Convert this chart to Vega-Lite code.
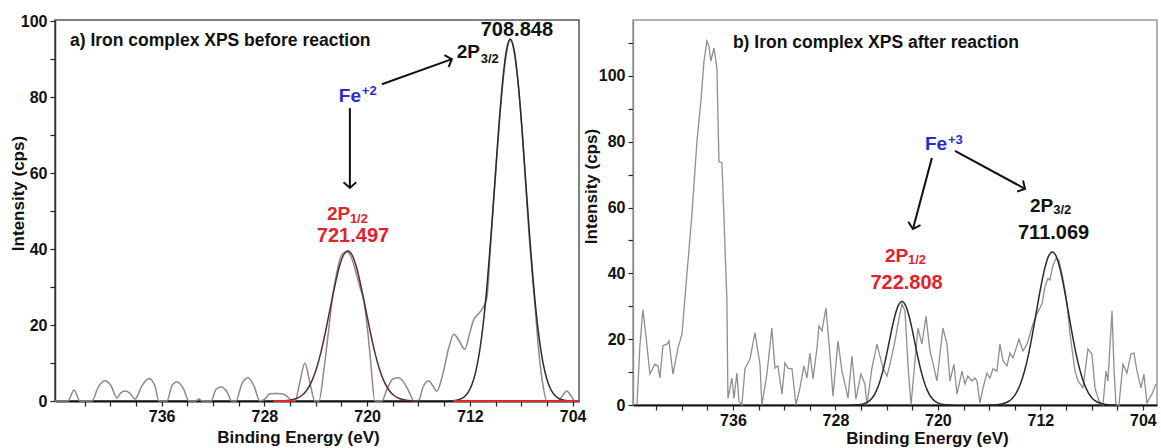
{
  "$schema": "https://vega.github.io/schema/vega-lite/v6.json",
  "background": "white",
  "padding": {"left": 8, "top": 12, "right": 0, "bottom": 0},
  "spacing": -6,
  "config": {
    "font": "Liberation Sans",
    "axis": {
      "labelFont": "Liberation Sans",
      "titleFont": "Liberation Sans",
      "labelFontWeight": "bold",
      "titleFontWeight": "bold",
      "labelColor": "#111111",
      "titleColor": "#111111",
      "labelFontSize": 16,
      "titleFontSize": 17,
      "grid": false,
      "tickSize": 5,
      "tickColor": "#222222",
      "tickWidth": 1.2,
      "labelOverlap": false,
      "labelFlush": false
    }
  },
  "datasets": {
    "rawA": [
      {"e": 744.3, "v": 0}, {"e": 743.29, "v": 0}, {"e": 742.82, "v": 2.9}, {"e": 742.35, "v": 0},
      {"e": 741.42, "v": 0}, {"e": 740.95, "v": 3.5}, {"e": 740.41, "v": 5.3}, {"e": 739.94, "v": 4},
      {"e": 739.47, "v": 0.8}, {"e": 739.16, "v": 2.2}, {"e": 738.85, "v": 2.6}, {"e": 738.46, "v": 2},
      {"e": 738.07, "v": 0.5}, {"e": 737.53, "v": 4}, {"e": 736.98, "v": 5.9}, {"e": 736.52, "v": 4},
      {"e": 736.21, "v": 0}, {"e": 735.58, "v": 0}, {"e": 735.2, "v": 4}, {"e": 734.81, "v": 5.1},
      {"e": 734.34, "v": 3.5}, {"e": 733.87, "v": 0}, {"e": 733.33, "v": 0}, {"e": 733.09, "v": 0.5},
      {"e": 732.86, "v": 0}, {"e": 732.16, "v": 0}, {"e": 731.77, "v": 3}, {"e": 731.38, "v": 3.7},
      {"e": 730.92, "v": 2.5}, {"e": 730.53, "v": 0}, {"e": 730.21, "v": 0}, {"e": 729.75, "v": 4.5},
      {"e": 729.28, "v": 6.1}, {"e": 728.81, "v": 4}, {"e": 728.35, "v": 0}, {"e": 727.96, "v": 0.5},
      {"e": 727.57, "v": 1.9}, {"e": 727.02, "v": 2.0}, {"e": 726.48, "v": 1.8}, {"e": 726.01, "v": 0.5},
      {"e": 725.62, "v": 0}, {"e": 725.23, "v": 5}, {"e": 724.85, "v": 10}, {"e": 724.46, "v": 5},
      {"e": 724.07, "v": 0}, {"e": 723.75, "v": 0}, {"e": 723.37, "v": 8}, {"e": 723.05, "v": 17},
      {"e": 722.74, "v": 26}, {"e": 722.35, "v": 34}, {"e": 721.97, "v": 38.5}, {"e": 721.58, "v": 39.3},
      {"e": 721.19, "v": 37.5}, {"e": 720.8, "v": 33}, {"e": 720.56, "v": 30}, {"e": 720.25, "v": 26.3},
      {"e": 719.94, "v": 18}, {"e": 719.71, "v": 10}, {"e": 719.4, "v": 0}, {"e": 718.85, "v": 0},
      {"e": 718.46, "v": 3}, {"e": 717.99, "v": 5.8}, {"e": 717.53, "v": 6.1}, {"e": 717.06, "v": 4.5},
      {"e": 716.67, "v": 2}, {"e": 716.36, "v": 0}, {"e": 715.97, "v": 0.2}, {"e": 715.66, "v": 3.5},
      {"e": 715.19, "v": 5.3}, {"e": 714.88, "v": 4}, {"e": 714.57, "v": 2.6}, {"e": 714.11, "v": 7},
      {"e": 713.64, "v": 14}, {"e": 713.25, "v": 17.6}, {"e": 712.86, "v": 16}, {"e": 712.39, "v": 13.6},
      {"e": 712.0, "v": 18}, {"e": 711.69, "v": 21.5}, {"e": 711.3, "v": 23}, {"e": 710.99, "v": 24.5},
      {"e": 710.68, "v": 27}, {"e": 710.35, "v": 43}, {"e": 710.05, "v": 57}, {"e": 709.75, "v": 71},
      {"e": 709.45, "v": 83}, {"e": 709.15, "v": 91.5}, {"e": 708.85, "v": 95.0}, {"e": 708.55, "v": 92},
      {"e": 708.25, "v": 84}, {"e": 707.95, "v": 72}, {"e": 707.65, "v": 57}, {"e": 707.35, "v": 42},
      {"e": 706.95, "v": 26}, {"e": 706.6, "v": 12}, {"e": 706.3, "v": 4}, {"e": 706.0, "v": 0},
      {"e": 705.16, "v": 0}, {"e": 704.77, "v": 1.5}, {"e": 704.46, "v": 2.6}, {"e": 704.14, "v": 1.5},
      {"e": 703.83, "v": 0}, {"e": 703.52, "v": 0}
    ],
    "fitA": [
      {"p": "2p1/2", "e": 715.897, "v": 0}, {"p": "2p1/2", "e": 716.597, "v": 0.09}, {"p": "2p1/2", "e": 716.947, "v": 0.2},
      {"p": "2p1/2", "e": 717.297, "v": 0.44}, {"p": "2p1/2", "e": 717.647, "v": 0.9}, {"p": "2p1/2", "e": 717.997, "v": 1.7},
      {"p": "2p1/2", "e": 718.347, "v": 3.1}, {"p": "2p1/2", "e": 718.697, "v": 5.3}, {"p": "2p1/2", "e": 719.047, "v": 8.5},
      {"p": "2p1/2", "e": 719.397, "v": 12.8}, {"p": "2p1/2", "e": 719.747, "v": 18.1}, {"p": "2p1/2", "e": 720.097, "v": 24.0},
      {"p": "2p1/2", "e": 720.447, "v": 29.8}, {"p": "2p1/2", "e": 720.797, "v": 34.9}, {"p": "2p1/2", "e": 721.147, "v": 38.3},
      {"p": "2p1/2", "e": 721.497, "v": 39.5},
      {"p": "2p1/2", "e": 721.847, "v": 38.3}, {"p": "2p1/2", "e": 722.197, "v": 34.9}, {"p": "2p1/2", "e": 722.547, "v": 29.8},
      {"p": "2p1/2", "e": 722.897, "v": 24.0}, {"p": "2p1/2", "e": 723.247, "v": 18.1}, {"p": "2p1/2", "e": 723.597, "v": 12.8},
      {"p": "2p1/2", "e": 723.947, "v": 8.5}, {"p": "2p1/2", "e": 724.297, "v": 5.3}, {"p": "2p1/2", "e": 724.647, "v": 3.1},
      {"p": "2p1/2", "e": 724.997, "v": 1.7}, {"p": "2p1/2", "e": 725.347, "v": 0.9}, {"p": "2p1/2", "e": 725.697, "v": 0.44},
      {"p": "2p1/2", "e": 726.047, "v": 0.2}, {"p": "2p1/2", "e": 726.397, "v": 0.09}, {"p": "2p1/2", "e": 727.097, "v": 0},
      {"p": "2p3/2", "e": 704.048, "v": 0}, {"p": "2p3/2", "e": 704.648, "v": 0.21}, {"p": "2p3/2", "e": 704.948, "v": 0.49},
      {"p": "2p3/2", "e": 705.248, "v": 1.06}, {"p": "2p3/2", "e": 705.548, "v": 2.2}, {"p": "2p3/2", "e": 705.848, "v": 4.2},
      {"p": "2p3/2", "e": 706.148, "v": 7.6}, {"p": "2p3/2", "e": 706.448, "v": 12.9}, {"p": "2p3/2", "e": 706.748, "v": 20.6},
      {"p": "2p3/2", "e": 707.048, "v": 30.9}, {"p": "2p3/2", "e": 707.348, "v": 43.6}, {"p": "2p3/2", "e": 707.648, "v": 57.8},
      {"p": "2p3/2", "e": 707.948, "v": 72.0}, {"p": "2p3/2", "e": 708.248, "v": 84.1}, {"p": "2p3/2", "e": 708.548, "v": 92.3},
      {"p": "2p3/2", "e": 708.848, "v": 95.3},
      {"p": "2p3/2", "e": 709.148, "v": 92.3}, {"p": "2p3/2", "e": 709.448, "v": 84.1}, {"p": "2p3/2", "e": 709.748, "v": 72.0},
      {"p": "2p3/2", "e": 710.048, "v": 57.8}, {"p": "2p3/2", "e": 710.348, "v": 43.6}, {"p": "2p3/2", "e": 710.648, "v": 30.9},
      {"p": "2p3/2", "e": 710.948, "v": 20.6}, {"p": "2p3/2", "e": 711.248, "v": 12.9}, {"p": "2p3/2", "e": 711.548, "v": 7.6},
      {"p": "2p3/2", "e": 711.848, "v": 4.2}, {"p": "2p3/2", "e": 712.148, "v": 2.2}, {"p": "2p3/2", "e": 712.448, "v": 1.06},
      {"p": "2p3/2", "e": 712.748, "v": 0.49}, {"p": "2p3/2", "e": 713.048, "v": 0.21}, {"p": "2p3/2", "e": 713.648, "v": 0}
    ],
    "baseA": [
      {"seg": "low", "e": 727.3, "v": 0}, {"seg": "low", "e": 725.7, "v": 0},
      {"seg": "high", "e": 713.3, "v": 0}, {"seg": "high", "e": 703.6, "v": 0}
    ],
    "arrowsA": [
      {"e": 718.85, "v": 83.4, "e2": 713.4, "v2": 90.0},
      {"e": 721.34, "v": 77.1, "e2": 721.34, "v2": 56.3}
    ],
    "headsA": [
      {"e": 713.4, "v": 90.0, "a": -19.7},
      {"e": 721.34, "v": 56.1, "a": 90}
    ],
    "textA": [
      {"t": "a) Iron complex XPS before reaction", "e": 743.13, "v": 94.7, "c": "#111111", "s": 17.5},
      {"t": "708.848", "e": 711.15, "v": 97.6, "c": "#111111", "s": 20},
      {"t": "2P", "e": 713.02, "v": 91.8, "c": "#111111", "s": 19},
      {"t": "3/2", "e": 711.15, "v": 90.0, "c": "#111111", "s": 13},
      {"t": "Fe", "e": 722.2, "v": 80.4, "c": "#2b2bd0", "s": 19},
      {"t": "+2", "e": 720.41, "v": 81.6, "c": "#2b2bd0", "s": 13},
      {"t": "2P", "e": 723.13, "v": 49.2, "c": "#e4202c", "s": 19},
      {"t": "1/2", "e": 721.34, "v": 47.8, "c": "#e4202c", "s": 13},
      {"t": "721.497", "e": 723.91, "v": 43.4, "c": "#e4202c", "s": 20}
    ],
    "rawB": [
      {"e": 743.49, "v": 0}, {"e": 743.26, "v": 18}, {"e": 743.03, "v": 29}, {"e": 742.79, "v": 21},
      {"e": 742.48, "v": 9.4}, {"e": 742.09, "v": 12.4}, {"e": 741.85, "v": 11.9}, {"e": 741.7, "v": 8.2},
      {"e": 741.46, "v": 18}, {"e": 741.15, "v": 18.5}, {"e": 740.99, "v": 19.5}, {"e": 740.68, "v": 9.4},
      {"e": 740.29, "v": 17.3}, {"e": 739.98, "v": 21.5}, {"e": 739.59, "v": 39.8}, {"e": 739.2, "v": 58},
      {"e": 738.81, "v": 80}, {"e": 738.5, "v": 92.4}, {"e": 738.26, "v": 104.5}, {"e": 738.03, "v": 110.6},
      {"e": 737.87, "v": 109}, {"e": 737.72, "v": 104.5}, {"e": 737.48, "v": 108.5}, {"e": 737.25, "v": 102.4},
      {"e": 737.09, "v": 74}, {"e": 736.86, "v": 73.6}, {"e": 736.7, "v": 57}, {"e": 736.47, "v": 31.6},
      {"e": 736.39, "v": 2}, {"e": 736.08, "v": 8.2}, {"e": 735.92, "v": 2}, {"e": 735.69, "v": 9.7},
      {"e": 735.53, "v": 1.2}, {"e": 735.3, "v": 0}, {"e": 735.06, "v": 11}, {"e": 734.67, "v": 14},
      {"e": 734.28, "v": 22}, {"e": 733.89, "v": 12.4}, {"e": 733.74, "v": 0}, {"e": 733.35, "v": 9.4},
      {"e": 732.96, "v": 23.4}, {"e": 732.72, "v": 11.2}, {"e": 732.49, "v": 11.9}, {"e": 732.17, "v": 3.3},
      {"e": 731.94, "v": 12.8}, {"e": 731.71, "v": 11.2}, {"e": 731.39, "v": 11}, {"e": 731.08, "v": 0},
      {"e": 730.77, "v": 5.2}, {"e": 730.46, "v": 11.9}, {"e": 730.22, "v": 8.2}, {"e": 729.99, "v": 15.8},
      {"e": 729.75, "v": 7.9}, {"e": 729.44, "v": 17.3}, {"e": 729.29, "v": 24}, {"e": 729.05, "v": 22.5},
      {"e": 728.74, "v": 29.5}, {"e": 728.43, "v": 15.5}, {"e": 728.19, "v": 2.7}, {"e": 727.8, "v": 19.5},
      {"e": 727.49, "v": 10.3}, {"e": 727.26, "v": 6.4}, {"e": 727.02, "v": 2}, {"e": 726.71, "v": 14.9},
      {"e": 726.4, "v": 1.8}, {"e": 726.01, "v": 9.4}, {"e": 725.7, "v": 6.4}, {"e": 725.54, "v": 0},
      {"e": 725.15, "v": 11.2}, {"e": 724.76, "v": 18.5}, {"e": 724.29, "v": 11.2}, {"e": 723.98, "v": 8.8},
      {"e": 723.74, "v": 12.4}, {"e": 723.35, "v": 19.5}, {"e": 723.12, "v": 24.6}, {"e": 722.81, "v": 30.7},
      {"e": 722.57, "v": 28.6}, {"e": 722.34, "v": 12.4}, {"e": 722.1, "v": 0}, {"e": 721.79, "v": 13.4},
      {"e": 721.56, "v": 23.4}, {"e": 721.25, "v": 18.5}, {"e": 720.93, "v": 27}, {"e": 720.62, "v": 16.4},
      {"e": 720.39, "v": 12.8}, {"e": 720.08, "v": 7.3}, {"e": 719.61, "v": 23.4}, {"e": 719.29, "v": 18.5},
      {"e": 719.06, "v": 7.3}, {"e": 718.75, "v": 12.4}, {"e": 718.51, "v": 3.3}, {"e": 718.12, "v": 10.3},
      {"e": 717.89, "v": 6.4}, {"e": 717.66, "v": 8.8}, {"e": 717.34, "v": 7.3}, {"e": 717.11, "v": 8.2},
      {"e": 716.95, "v": 7.3}, {"e": 716.72, "v": 0.6}, {"e": 716.48, "v": 5.2}, {"e": 716.17, "v": 9.7},
      {"e": 715.94, "v": 8.2}, {"e": 715.7, "v": 11}, {"e": 715.39, "v": 10.3}, {"e": 715.16, "v": 18.5},
      {"e": 714.92, "v": 13.4}, {"e": 714.61, "v": 11.9}, {"e": 714.38, "v": 15.8}, {"e": 714.14, "v": 14.3},
      {"e": 713.67, "v": 20}, {"e": 713.36, "v": 16.4}, {"e": 713.05, "v": 18.5}, {"e": 712.81, "v": 21.5},
      {"e": 712.58, "v": 24.6}, {"e": 712.27, "v": 27.7}, {"e": 711.88, "v": 30.7}, {"e": 711.64, "v": 36},
      {"e": 711.41, "v": 38.5}, {"e": 711.26, "v": 38}, {"e": 711.02, "v": 42.5}, {"e": 710.79, "v": 44.5},
      {"e": 710.56, "v": 44}, {"e": 710.32, "v": 40}, {"e": 710.09, "v": 35}, {"e": 709.93, "v": 31},
      {"e": 709.69, "v": 21.5}, {"e": 709.3, "v": 10.3}, {"e": 709.07, "v": 7.3}, {"e": 708.68, "v": 5.2},
      {"e": 708.29, "v": 17}, {"e": 707.98, "v": 15.5}, {"e": 707.74, "v": 5.2}, {"e": 707.43, "v": 1.2},
      {"e": 707.12, "v": 0}, {"e": 706.88, "v": 10.3}, {"e": 706.73, "v": 7.3}, {"e": 706.41, "v": 28.6},
      {"e": 706.26, "v": 11.2}, {"e": 706.1, "v": 0}, {"e": 705.87, "v": 0}, {"e": 705.56, "v": 12.4},
      {"e": 705.25, "v": 9.7}, {"e": 704.93, "v": 15.5}, {"e": 704.7, "v": 15.8}, {"e": 704.46, "v": 10.3},
      {"e": 704.15, "v": 5.2}, {"e": 703.92, "v": 9.4}, {"e": 703.69, "v": 0.6}, {"e": 703.3, "v": 3.3},
      {"e": 702.99, "v": 6.4}
    ],
    "fitB": [
      {"p": "2p1/2", "e": 718.808, "v": 0}, {"p": "2p1/2", "e": 719.308, "v": 0.07}, {"p": "2p1/2", "e": 719.558, "v": 0.16},
      {"p": "2p1/2", "e": 719.808, "v": 0.35}, {"p": "2p1/2", "e": 720.058, "v": 0.7}, {"p": "2p1/2", "e": 720.308, "v": 1.4},
      {"p": "2p1/2", "e": 720.558, "v": 2.5}, {"p": "2p1/2", "e": 720.808, "v": 4.3}, {"p": "2p1/2", "e": 721.058, "v": 6.8},
      {"p": "2p1/2", "e": 721.308, "v": 10.2}, {"p": "2p1/2", "e": 721.558, "v": 14.4}, {"p": "2p1/2", "e": 721.808, "v": 19.1},
      {"p": "2p1/2", "e": 722.058, "v": 23.8}, {"p": "2p1/2", "e": 722.308, "v": 27.8}, {"p": "2p1/2", "e": 722.558, "v": 30.5},
      {"p": "2p1/2", "e": 722.808, "v": 31.5},
      {"p": "2p1/2", "e": 723.058, "v": 30.5}, {"p": "2p1/2", "e": 723.308, "v": 27.8}, {"p": "2p1/2", "e": 723.558, "v": 23.8},
      {"p": "2p1/2", "e": 723.808, "v": 19.1}, {"p": "2p1/2", "e": 724.058, "v": 14.4}, {"p": "2p1/2", "e": 724.308, "v": 10.2},
      {"p": "2p1/2", "e": 724.558, "v": 6.8}, {"p": "2p1/2", "e": 724.808, "v": 4.3}, {"p": "2p1/2", "e": 725.058, "v": 2.5},
      {"p": "2p1/2", "e": 725.308, "v": 1.4}, {"p": "2p1/2", "e": 725.558, "v": 0.7}, {"p": "2p1/2", "e": 725.808, "v": 0.35},
      {"p": "2p1/2", "e": 726.058, "v": 0.16}, {"p": "2p1/2", "e": 726.308, "v": 0.07}, {"p": "2p1/2", "e": 726.808, "v": 0},
      {"p": "2p3/2", "e": 706.069, "v": 0}, {"p": "2p3/2", "e": 706.694, "v": 0.1}, {"p": "2p3/2", "e": 707.006, "v": 0.24},
      {"p": "2p3/2", "e": 707.319, "v": 0.52}, {"p": "2p3/2", "e": 707.631, "v": 1.06}, {"p": "2p3/2", "e": 707.944, "v": 2.0},
      {"p": "2p3/2", "e": 708.256, "v": 3.7}, {"p": "2p3/2", "e": 708.569, "v": 6.3}, {"p": "2p3/2", "e": 708.881, "v": 10.1},
      {"p": "2p3/2", "e": 709.194, "v": 15.1}, {"p": "2p3/2", "e": 709.506, "v": 21.3}, {"p": "2p3/2", "e": 709.819, "v": 28.2},
      {"p": "2p3/2", "e": 710.131, "v": 35.1}, {"p": "2p3/2", "e": 710.444, "v": 41.0}, {"p": "2p3/2", "e": 710.756, "v": 45.1},
      {"p": "2p3/2", "e": 711.069, "v": 46.5},
      {"p": "2p3/2", "e": 711.381, "v": 45.1}, {"p": "2p3/2", "e": 711.694, "v": 41.0}, {"p": "2p3/2", "e": 712.006, "v": 35.1},
      {"p": "2p3/2", "e": 712.319, "v": 28.2}, {"p": "2p3/2", "e": 712.631, "v": 21.3}, {"p": "2p3/2", "e": 712.944, "v": 15.1},
      {"p": "2p3/2", "e": 713.256, "v": 10.1}, {"p": "2p3/2", "e": 713.569, "v": 6.3}, {"p": "2p3/2", "e": 713.881, "v": 3.7},
      {"p": "2p3/2", "e": 714.194, "v": 2.0}, {"p": "2p3/2", "e": 714.506, "v": 1.06}, {"p": "2p3/2", "e": 714.819, "v": 0.52},
      {"p": "2p3/2", "e": 715.131, "v": 0.24}, {"p": "2p3/2", "e": 715.444, "v": 0.1}, {"p": "2p3/2", "e": 716.069, "v": 0}
    ],
    "arrowsB": [
      {"e": 718.67, "v": 77.2, "e2": 713.2, "v2": 65.7},
      {"e": 720.47, "v": 75.1, "e2": 721.95, "v2": 53.5}
    ],
    "headsB": [
      {"e": 713.2, "v": 65.7, "a": 28.4},
      {"e": 721.95, "v": 53.5, "a": 105}
    ],
    "textB": [
      {"t": "b) Iron complex XPS after reaction", "e": 736.0, "v": 109.9, "c": "#111111", "s": 17.5},
      {"t": "Fe", "e": 721.01, "v": 79.2, "c": "#2b2bd0", "s": 19},
      {"t": "+3", "e": 719.22, "v": 80.4, "c": "#2b2bd0", "s": 13},
      {"t": "2P", "e": 712.82, "v": 60.5, "c": "#111111", "s": 19},
      {"t": "3/2", "e": 711.0, "v": 59.3, "c": "#111111", "s": 13},
      {"t": "711.069", "e": 713.75, "v": 52.4, "c": "#111111", "s": 20},
      {"t": "2P", "e": 724.13, "v": 45.4, "c": "#e4202c", "s": 19},
      {"t": "1/2", "e": 722.34, "v": 44.2, "c": "#e4202c", "s": 13},
      {"t": "722.808", "e": 725.27, "v": 37.2, "c": "#e4202c", "s": 20}
    ]
  },
  "hconcat": [
    {
      "width": 524,
      "height": 381,
      "view": {"stroke": "#555555", "strokeWidth": 1.5},
      "encoding": {
        "x": {
          "field": "e",
          "type": "quantitative",
          "scale": {"domain": [703.5, 744.3], "reverse": true, "nice": false, "zero": false},
          "axis": {
            "title": "Binding Energy (eV)",
            "values": [742, 740, 738, 736, 734, 732, 730, 728, 726, 724, 722, 720, 718, 716, 714, 712, 710, 708, 706, 704],
            "format": "d",
            "labelExpr": "datum.value % 8 === 0 ? datum.label : ''",
            "labelPadding": 2,
            "domainColor": "#111111",
            "domainWidth": 2.2,
            "titleX": 243,
            "titleY": 41,
            "titleBaseline": "alphabetic",
            "titleAlign": "center"
          }
        },
        "y": {
          "field": "v",
          "type": "quantitative",
          "scale": {"domain": [0, 100.3], "nice": false},
          "axis": {
            "title": "Intensity (cps)",
            "values": [0, 10, 20, 30, 40, 50, 60, 70, 80, 90, 100],
            "labelExpr": "datum.value % 20 === 0 ? datum.label : ''",
            "labelPadding": 3,
            "domainColor": "#333333",
            "domainWidth": 1.5,
            "titleX": -37,
            "titleY": 173,
            "titleAngle": 270,
            "titleAlign": "center",
            "titleBaseline": "middle"
          }
        }
      },
      "layer": [
        {
          "data": {"name": "rawA"},
          "mark": {"type": "line", "interpolate": "monotone", "color": "#8a8a8a", "strokeWidth": 1.5}
        },
        {
          "data": {"name": "fitA"},
          "mark": {"type": "line", "interpolate": "monotone", "strokeWidth": 1.5},
          "encoding": {
            "color": {"field": "p", "type": "nominal", "scale": {"domain": ["2p1/2", "2p3/2"], "range": ["#5c2a36", "#2a2a2a"]}, "legend": null}
          }
        },
        {
          "data": {"name": "baseA"},
          "mark": {"type": "line", "color": "#e02828", "strokeWidth": 2},
          "encoding": {"detail": {"field": "seg", "type": "nominal"}}
        },
        {
          "data": {"name": "arrowsA"},
          "mark": {"type": "rule", "color": "#111111", "strokeWidth": 2},
          "encoding": {"x2": {"field": "e2"}, "y2": {"field": "v2"}}
        },
        {
          "data": {"name": "headsA"},
          "mark": {"type": "point", "shape": "M -0.9 -1 L 0 0 L -0.9 1", "filled": false, "color": "#111111", "strokeWidth": 2, "size": 160, "opacity": 1},
          "encoding": {"angle": {"field": "a", "type": "quantitative", "scale": null}}
        },
        {
          "data": {"name": "textA"},
          "mark": {"type": "text", "align": "left", "baseline": "middle", "font": "Liberation Sans", "fontWeight": "bold"},
          "encoding": {
            "text": {"field": "t"},
            "color": {"field": "c", "type": "nominal", "scale": null},
            "size": {"field": "s", "type": "quantitative", "scale": null}
          }
        }
      ]
    },
    {
      "width": 524,
      "height": 385,
      "view": {"stroke": "#999999", "strokeWidth": 1.5},
      "encoding": {
        "x": {
          "field": "e",
          "type": "quantitative",
          "scale": {"domain": [702.9, 743.8], "reverse": true, "nice": false, "zero": false},
          "axis": {
            "title": "Binding Energy (eV)",
            "values": [742, 740, 738, 736, 734, 732, 730, 728, 726, 724, 722, 720, 718, 716, 714, 712, 710, 708, 706, 704],
            "format": "d",
            "labelExpr": "datum.value % 8 === 0 ? datum.label : ''",
            "labelPadding": 2,
            "domainColor": "#111111",
            "domainWidth": 2,
            "titleX": 294,
            "titleY": 38,
            "titleBaseline": "alphabetic",
            "titleAlign": "center"
          }
        },
        "y": {
          "field": "v",
          "type": "quantitative",
          "scale": {"domain": [0, 117], "nice": false},
          "axis": {
            "title": "Intensity (cps)",
            "values": [0, 10, 20, 30, 40, 50, 60, 70, 80, 90, 100, 110],
            "labelExpr": "datum.value % 20 === 0 ? datum.label : ''",
            "labelPadding": 3,
            "domainColor": "#888888",
            "domainWidth": 1.3,
            "titleX": -41.5,
            "titleY": 166,
            "titleAngle": 270,
            "titleAlign": "center",
            "titleBaseline": "middle"
          }
        }
      },
      "layer": [
        {
          "data": {"name": "rawB"},
          "mark": {"type": "line", "color": "#8f8f8f", "strokeWidth": 1.3}
        },
        {
          "data": {"name": "fitB"},
          "mark": {"type": "line", "interpolate": "monotone", "color": "#2a2a2a", "strokeWidth": 1.5},
          "encoding": {"detail": {"field": "p", "type": "nominal"}}
        },
        {
          "data": {"name": "arrowsB"},
          "mark": {"type": "rule", "color": "#111111", "strokeWidth": 2},
          "encoding": {"x2": {"field": "e2"}, "y2": {"field": "v2"}}
        },
        {
          "data": {"name": "headsB"},
          "mark": {"type": "point", "shape": "M -0.9 -1 L 0 0 L -0.9 1", "filled": false, "color": "#111111", "strokeWidth": 2, "size": 160, "opacity": 1},
          "encoding": {"angle": {"field": "a", "type": "quantitative", "scale": null}}
        },
        {
          "data": {"name": "textB"},
          "mark": {"type": "text", "align": "left", "baseline": "middle", "font": "Liberation Sans", "fontWeight": "bold"},
          "encoding": {
            "text": {"field": "t"},
            "color": {"field": "c", "type": "nominal", "scale": null},
            "size": {"field": "s", "type": "quantitative", "scale": null}
          }
        }
      ]
    }
  ]
}
